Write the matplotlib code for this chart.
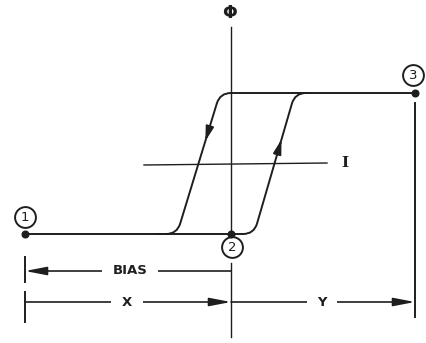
import matplotlib.pyplot as plt
import numpy as np
from matplotlib.path import Path
from matplotlib.patches import PathPatch

# diagram units: I to the right, Phi upward (roughly pixel scaled)
phi_low, phi_high = -69, 72
point_labels = ['1', '2', '3']
point_I = [-206, 0, 184]
point_phi = [phi_low, phi_low, phi_high]
label_I = [-206, 1, 182]
label_phi = [-52, -82, 90]

# hysteresis branches: (bottom vertex I, top vertex I)
ascending = (23, 64)
descending = (-54, -11)
corner_r = 11

ink = '#1e1e1e'


def rounded(points, r):
    pts = [np.array(p, float) for p in points]
    verts, codes = [pts[0]], [Path.MOVETO]
    for i in range(1, len(pts) - 1):
        p, v, n = pts[i - 1], pts[i], pts[i + 1]
        a = v + r * (p - v) / np.linalg.norm(p - v)
        b = v + r * (n - v) / np.linalg.norm(n - v)
        verts += [a, v, b]
        codes += [Path.LINETO, Path.CURVE3, Path.CURVE3]
    verts.append(pts[-1])
    codes.append(Path.LINETO)
    return Path(verts, codes)


fig = plt.figure(figsize=(4.26, 3.43), dpi=100)
ax = fig.add_axes([0, 0, 1, 1])
ax.set_xlim(-231, 195)
ax.set_ylim(-178, 165)
ax.axis('off')

# axes of the loop
ax.plot([0, 0], [138, phi_low], color=ink, lw=1.0)
ax.plot([0, 0], [-98, -172], color=ink, lw=1.0)
ax.plot([-87, 96], [0, 2], color=ink, lw=1.0)
ax.text(-2, 152, 'Φ', ha='center', va='center', fontsize=12.5, fontweight='bold', color=ink)
ax.text(114, 2, 'I', ha='center', va='center', fontsize=11, family='DejaVu Serif',
        fontweight='bold', color=ink)

# loop
up = [(point_I[0], phi_low), (ascending[0], phi_low), (ascending[1], phi_high), (80, phi_high)]
down = [(point_I[2], phi_high), (descending[1], phi_high), (descending[0], phi_low), (-75, phi_low)]
for pts in (up, down):
    ax.add_patch(PathPatch(rounded(pts, corner_r), fill=False, ec=ink, lw=1.4, capstyle='round'))

arrow = dict(arrowstyle='-|>,head_length=0.85,head_width=0.24', color=ink, lw=1.4,
             shrinkA=0, shrinkB=0)
for (b, t), frac, d in ((ascending, 0.67, 1), (descending, 0.66, -1)):
    y1 = phi_low + frac * (phi_high - phi_low)
    x1 = b + (y1 - phi_low) / (phi_high - phi_low) * (t - b)
    y0 = y1 - d * 14
    x0 = b + (y0 - phi_low) / (phi_high - phi_low) * (t - b)
    ax.annotate('', xy=(x1, y1), xytext=(x0, y0), arrowprops=arrow)

# points
ax.plot(point_I, point_phi, 'o', color=ink, ms=4.8, zorder=5)
for s, x, y in zip(point_labels, label_I, label_phi):
    ax.plot(x, y, 'o', mfc='white', mec=ink, mew=1.4, ms=15)
    ax.text(x, y - 0.3, s, ha='center', va='center', fontsize=9.5, color=ink)

# dimension lines
ax.plot([point_I[2], point_I[2]], [62, -152], color=ink, lw=1.4)
ax.plot([point_I[0], point_I[0]], [-92, -117], color=ink, lw=1.4)
ax.plot([point_I[0], point_I[0]], [-127, -157], color=ink, lw=1.4)
dim = dict(arrowstyle='-|>,head_length=1.3,head_width=0.25', color=ink, lw=1.2,
           shrinkA=0, shrinkB=0)
dims = [('BIAS', 0, point_I[0], -106, -101), ('X', point_I[0], 0, -137, -104),
        ('Y', 0, point_I[2], -137, 91)]
for txt, xa, xb, y, xt in dims:
    ax.annotate('', xy=(xb, y), xytext=(xa, y), arrowprops=dim)
    ax.text(xt, y, txt, ha='center', va='center', fontsize=9.5, fontweight='bold', color=ink,
            bbox=dict(boxstyle='square,pad=0.8', fc='white', ec='none'), zorder=4)

fig.savefig('out.png', dpi=100)
